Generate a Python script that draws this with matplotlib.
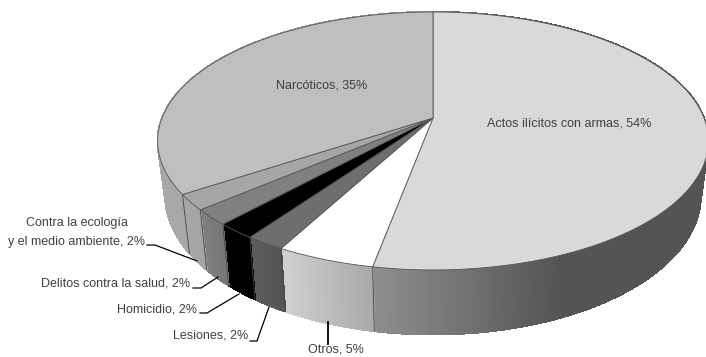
import numpy as np
import matplotlib
matplotlib.use("Agg")
import matplotlib.pyplot as plt
from matplotlib.collections import PolyCollection
from matplotlib.patches import Polygon

names = ["Actos ilícitos con armas", "Otros", "Lesiones", "Homicidio",
         "Delitos contra la salud", "Contra la ecología\ny el medio ambiente", "Narcóticos"]
values = [54, 5, 2, 2, 2, 2, 35]

top_colors = ["#d9d9d9", "#ffffff", "#6e6e6e", "#000000", "#808080", "#a6a6a6", "#bfbfbf"]
# gris de la pared segun la x del pixel (izquierda, derecha)
side_left = [0.56, 0.82, 0.36, 0.0, 0.50, 0.66, 0.66]
side_right = [0.33, 0.66, 0.33, 0.0, 0.46, 0.64, 0.62]

# posicion de cada etiqueta y su linea guia, en pixeles de la imagen
label_pos = [(569, 124, "center"), (336, 350, "center"), (248, 336, "right"), (197, 309, "right"),
             (190, 283, "right"), (145, 232, "right"), (322, 86, "center")]
leaders = [None,
           [(328, 322), (328, 344)],
           [(250, 341), (257, 341), (269, 307)],
           [(200, 313), (207, 313), (239, 294)],
           [(193, 288), (201, 288), (218, 277)],
           [(147, 245), (155, 245), (197, 261)],
           None]

cx, cy = 433, 118
rx = 271
persp = 0.178
a = -103.9
depth = 53
shrink = 0.972
fs = 9.0


def project(t):
    # disco en perspectiva, angulo medido desde arriba en sentido horario
    X, Y = np.sin(t), np.cos(t)
    den = 1 + persp * Y
    return cx + rx * X / den, (a * Y + cy) / den, den


def top_ring(t):
    x, y, den = project(t)
    return x, y


def bottom_ring(t):
    x, y, den = project(t)
    return cx + (x - cx) * shrink, y + depth / den


plt.rcParams["font.family"] = ["Liberation Sans", "DejaVu Sans"]

fig = plt.figure(figsize=(7.06, 3.57), dpi=100)
ax = fig.add_axes([0, 0, 1, 1])
ax.set_xlim(0, 706)
ax.set_ylim(357, 0)
ax.axis("off")

edges = np.cumsum([0] + values) / sum(values) * 2 * np.pi

# pared lateral, franjas con degradado
for i in range(len(values)):
    t = np.linspace(edges[i], edges[i + 1], max(int(values[i] * 12), 8))
    xt, yt = top_ring(t)
    xb, yb = bottom_ring(t)
    quads = []
    cols = []
    xmin, xmax = xt.min(), xt.max()
    if i == 0:
        # el degradado largo termina hacia la mitad del frente
        xmax = 560
    for j in range(len(t) - 1):
        quads.append([(xt[j], yt[j]), (xt[j + 1], yt[j + 1]), (xb[j + 1], yb[j + 1]), (xb[j], yb[j])])
        f = np.clip((xt[j] - xmin) / (xmax - xmin), 0, 1)
        g = side_left[i] + (side_right[i] - side_left[i]) * f
        cols.append((g, g, g))
    ax.add_collection(PolyCollection(quads, facecolors=cols, edgecolors=cols, linewidths=0.8,
                                     antialiaseds=False, zorder=2))
    # linea divisoria
    ax.plot([xt[0], xb[0]], [yt[0], yb[0]], color="#444444", lw=0.6, zorder=3)

# cara superior
for i in range(len(values)):
    t = np.linspace(edges[i], edges[i + 1], max(int(values[i] * 5), 4))
    xt, yt = top_ring(t)
    pts = [(cx, cy)] + list(zip(xt, yt))
    ax.add_patch(Polygon(pts, closed=True, fc=top_colors[i], ec="#555555", lw=0.6, zorder=4))

for i in range(len(values)):
    x, y, ha = label_pos[i]
    label = names[i] + ", " + str(values[i]) + "%"
    if "\n" in names[i]:
        ax.text(77, 223, names[i].split("\n")[0], ha="center", va="center", fontsize=fs, color="#404040", zorder=6)
        ax.text(145, 242, names[i].split("\n")[1] + ", " + str(values[i]) + "%", ha="right", va="center",
                fontsize=fs, color="#404040", zorder=6)
    else:
        ax.text(x, y, label, ha=ha, va="center", fontsize=fs, color="#404040", zorder=6)
    if leaders[i]:
        lx, ly = zip(*leaders[i])
        ax.plot(lx, ly, color="black", lw=1.3 if i == 1 else 0.9, zorder=5)

fig.savefig("out.png", dpi=100)
